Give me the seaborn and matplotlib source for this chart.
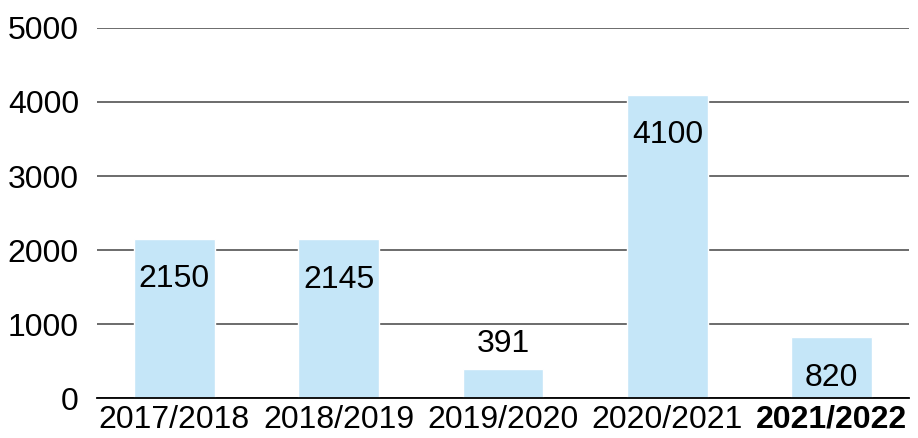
import matplotlib.pyplot as plt
import pandas as pd
import seaborn as sns

# values
seasons = ["2017/2018", "2018/2019", "2019/2020", "2020/2021", "2021/2022"]
counts = [2150, 2145, 391, 4100, 820]
yticks = [0, 1000, 2000, 3000, 4000, 5000]

df = pd.DataFrame({"season": seasons, "count": counts})

sns.set_style("white")
plt.rcParams["font.family"] = ["Liberation Sans", "DejaVu Sans"]
plt.rcParams["text.color"] = "black"
plt.rcParams["xtick.color"] = "black"
plt.rcParams["ytick.color"] = "black"

fig = plt.figure(figsize=(9.18, 4.38), dpi=100)
ax = fig.add_axes([97 / 918, 1 - 398 / 438, 812 / 918, 370 / 438])

sns.barplot(x="season", y="count", data=df, order=seasons, color="#C5E6F8",
            width=0.49, saturation=1, ax=ax, zorder=2)

ax.set_ylim(0, 5000)
ax.set_xlim(-0.47, 4.47)
ax.set_yticks(yticks)
ax.yaxis.grid(True, color="#444444", linewidth=1.1, zorder=1)
ax.set_axisbelow(True)
for s in ["top", "right", "left"]:
    ax.spines[s].set_visible(False)
ax.spines["bottom"].set_color("black")
ax.spines["bottom"].set_linewidth(1.3)
ax.spines["bottom"].set_zorder(3)
ax.tick_params(axis="both", length=0, labelsize=23, labelcolor="black")
ax.tick_params(axis="y", pad=13)
ax.tick_params(axis="x", pad=5)
ax.set_xlabel("")
ax.set_ylabel("")
ax.get_xticklabels()[-1].set_fontweight("bold")

# value labels: inside bar top, above the bar when it is too short
for i, v in enumerate(counts):
    off = 18 if v < 500 else -29
    ax.annotate(str(v), (i, v), xytext=(0, off), textcoords="offset points",
                ha="center", va="center", fontsize=23, color="black", zorder=4)

plt.savefig("out.png", dpi=100)
